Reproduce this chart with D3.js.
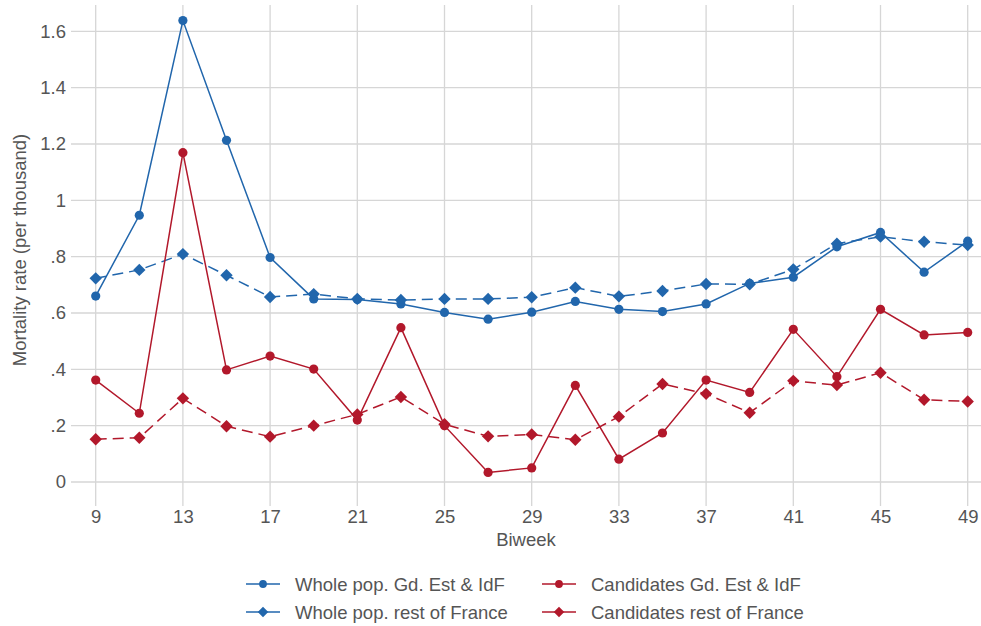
<!DOCTYPE html>
<html><head><meta charset="utf-8">
<script src="https://cdn.jsdelivr.net/npm/d3@7"></script>
<style>body{margin:0;background:#fff}svg{display:block}text{font-family:"Liberation Sans",Arial,sans-serif}</style>
</head><body>
<svg id="c" width="981" height="626"></svg>
<script>
const biweeks = [9,11,13,15,17,19,21,23,25,27,29,31,33,35,37,39,41,43,45,47,49];
const wholeGdEst = [0.660,0.947,1.638,1.213,0.797,0.650,0.648,0.632,0.602,0.578,0.603,0.641,0.613,0.605,0.632,0.705,0.727,0.835,0.886,0.745,0.855];
const wholeRest = [0.723,0.753,0.809,0.734,0.657,0.667,0.650,0.646,0.650,0.650,0.656,0.690,0.659,0.678,0.703,0.702,0.755,0.846,0.871,0.853,0.841];
const candGdEst = [0.362,0.244,1.169,0.398,0.447,0.401,0.220,0.548,0.200,0.034,0.050,0.343,0.081,0.174,0.362,0.318,0.542,0.374,0.613,0.522,0.531];
const candRest = [0.152,0.157,0.297,0.198,0.161,0.200,0.240,0.302,0.205,0.162,0.169,0.150,0.232,0.348,0.313,0.246,0.359,0.344,0.388,0.292,0.286];
const xTicks = [9,13,17,21,25,29,33,37,41,45,49];
const yTicks = [0,0.2,0.4,0.6,0.8,1,1.2,1.4,1.6];
const yTickLabels = ["0",".2",".4",".6",".8","1","1.2","1.4","1.6"];
const seriesNames = ["Whole pop. Gd. Est & IdF","Whole pop. rest of France","Candidates Gd. Est & IdF","Candidates rest of France"];

const blue = "#2166ac", red = "#b2182b";
const series = [
  {name: seriesNames[0], values: wholeGdEst, color: blue, dash: null, shape: "circle"},
  {name: seriesNames[1], values: wholeRest, color: blue, dash: "11,6", shape: "diamond"},
  {name: seriesNames[2], values: candGdEst, color: red, dash: null, shape: "circle"},
  {name: seriesNames[3], values: candRest, color: red, dash: "11,6", shape: "diamond"}
];

const FS = 18.5;
const svg = d3.select("#c");
const x = d3.scaleLinear().domain([9,49]).range([95.7,967.7]);
const y = d3.scaleLinear().domain([0,1.6]).range([482,31.3]);
const pLeft = 71, pRight = 981, pTop = 5, pBottom = 506;

// grid
svg.append("g").selectAll("line").data(yTicks).join("line")
  .attr("x1", pLeft).attr("x2", pRight).attr("y1", d=>y(d)).attr("y2", d=>y(d))
  .attr("stroke", "#d6d6d6").attr("stroke-width", 1.3);
svg.append("g").selectAll("line").data(xTicks).join("line")
  .attr("y1", pTop).attr("y2", pBottom).attr("x1", d=>x(d)).attr("x2", d=>x(d))
  .attr("stroke", "#d6d6d6").attr("stroke-width", 1.3);

// axes (labels only)
const yAxis = d3.axisLeft(y).tickValues(yTicks).tickFormat((d,i)=>yTickLabels[i]).tickSize(0).tickPadding(0);
const gy = svg.append("g").attr("transform", `translate(66,0)`).call(yAxis);
gy.select(".domain").remove();
gy.selectAll("text").attr("font-size", FS).attr("fill", "#555").attr("font-family", '"Liberation Sans",Arial,sans-serif');

const xAxis = d3.axisBottom(x).tickValues(xTicks).tickFormat(d3.format("d")).tickSize(0).tickPadding(0);
const gx = svg.append("g").attr("transform", `translate(0,523)`).call(xAxis);
gx.select(".domain").remove();
gx.selectAll("text").attr("dy", 0).attr("font-size", FS).attr("fill", "#555").attr("font-family", '"Liberation Sans",Arial,sans-serif');

svg.append("text").attr("x", (pLeft+pRight)/2).attr("y", 546).attr("text-anchor", "middle")
  .attr("font-size", FS).attr("fill", "#555").text("Biweek");
svg.append("text").attr("transform", `translate(26,250) rotate(-90)`).attr("text-anchor", "middle")
  .attr("font-size", FS).attr("fill", "#555").text("Mortality rate (per thousand)");

const line = d3.line().x((d,i)=>x(biweeks[i])).y(d=>y(d));
const diamond = (cx, cy, r) => `M${cx},${cy-r}L${cx+r},${cy}L${cx},${cy+r}L${cx-r},${cy}Z`;

function drawMarker(g, cx, cy, s, scale) {
  if (s.shape === "circle") {
    g.append("circle").attr("cx", cx).attr("cy", cy).attr("r", 4.6*scale).attr("fill", s.color);
  } else {
    g.append("path").attr("d", diamond(cx, cy, 6.2*scale)).attr("fill", s.color);
  }
}

series.forEach(s => {
  const g = svg.append("g");
  g.append("path").datum(s.values).attr("d", line).attr("fill", "none")
    .attr("stroke", s.color).attr("stroke-width", 1.5)
    .attr("stroke-dasharray", s.dash);
  s.values.forEach((v,i) => drawMarker(g, x(biweeks[i]), y(v), s, 1));
});

// legend
const legPos = [[246,584],[246,612],[542,584],[542,612]];
series.forEach((s,i) => {
  const [lx, ly] = legPos[i];
  const g = svg.append("g");
  g.append("line").attr("x1", lx).attr("x2", lx+34).attr("y1", ly).attr("y2", ly)
    .attr("stroke", s.color).attr("stroke-width", 1.5);
  drawMarker(g, lx+17, ly, s, 0.85);
  g.append("text").attr("x", lx+49).attr("y", ly+6.5).attr("font-size", FS).attr("fill", "#555").text(s.name);
});
</script>
</body></html>
